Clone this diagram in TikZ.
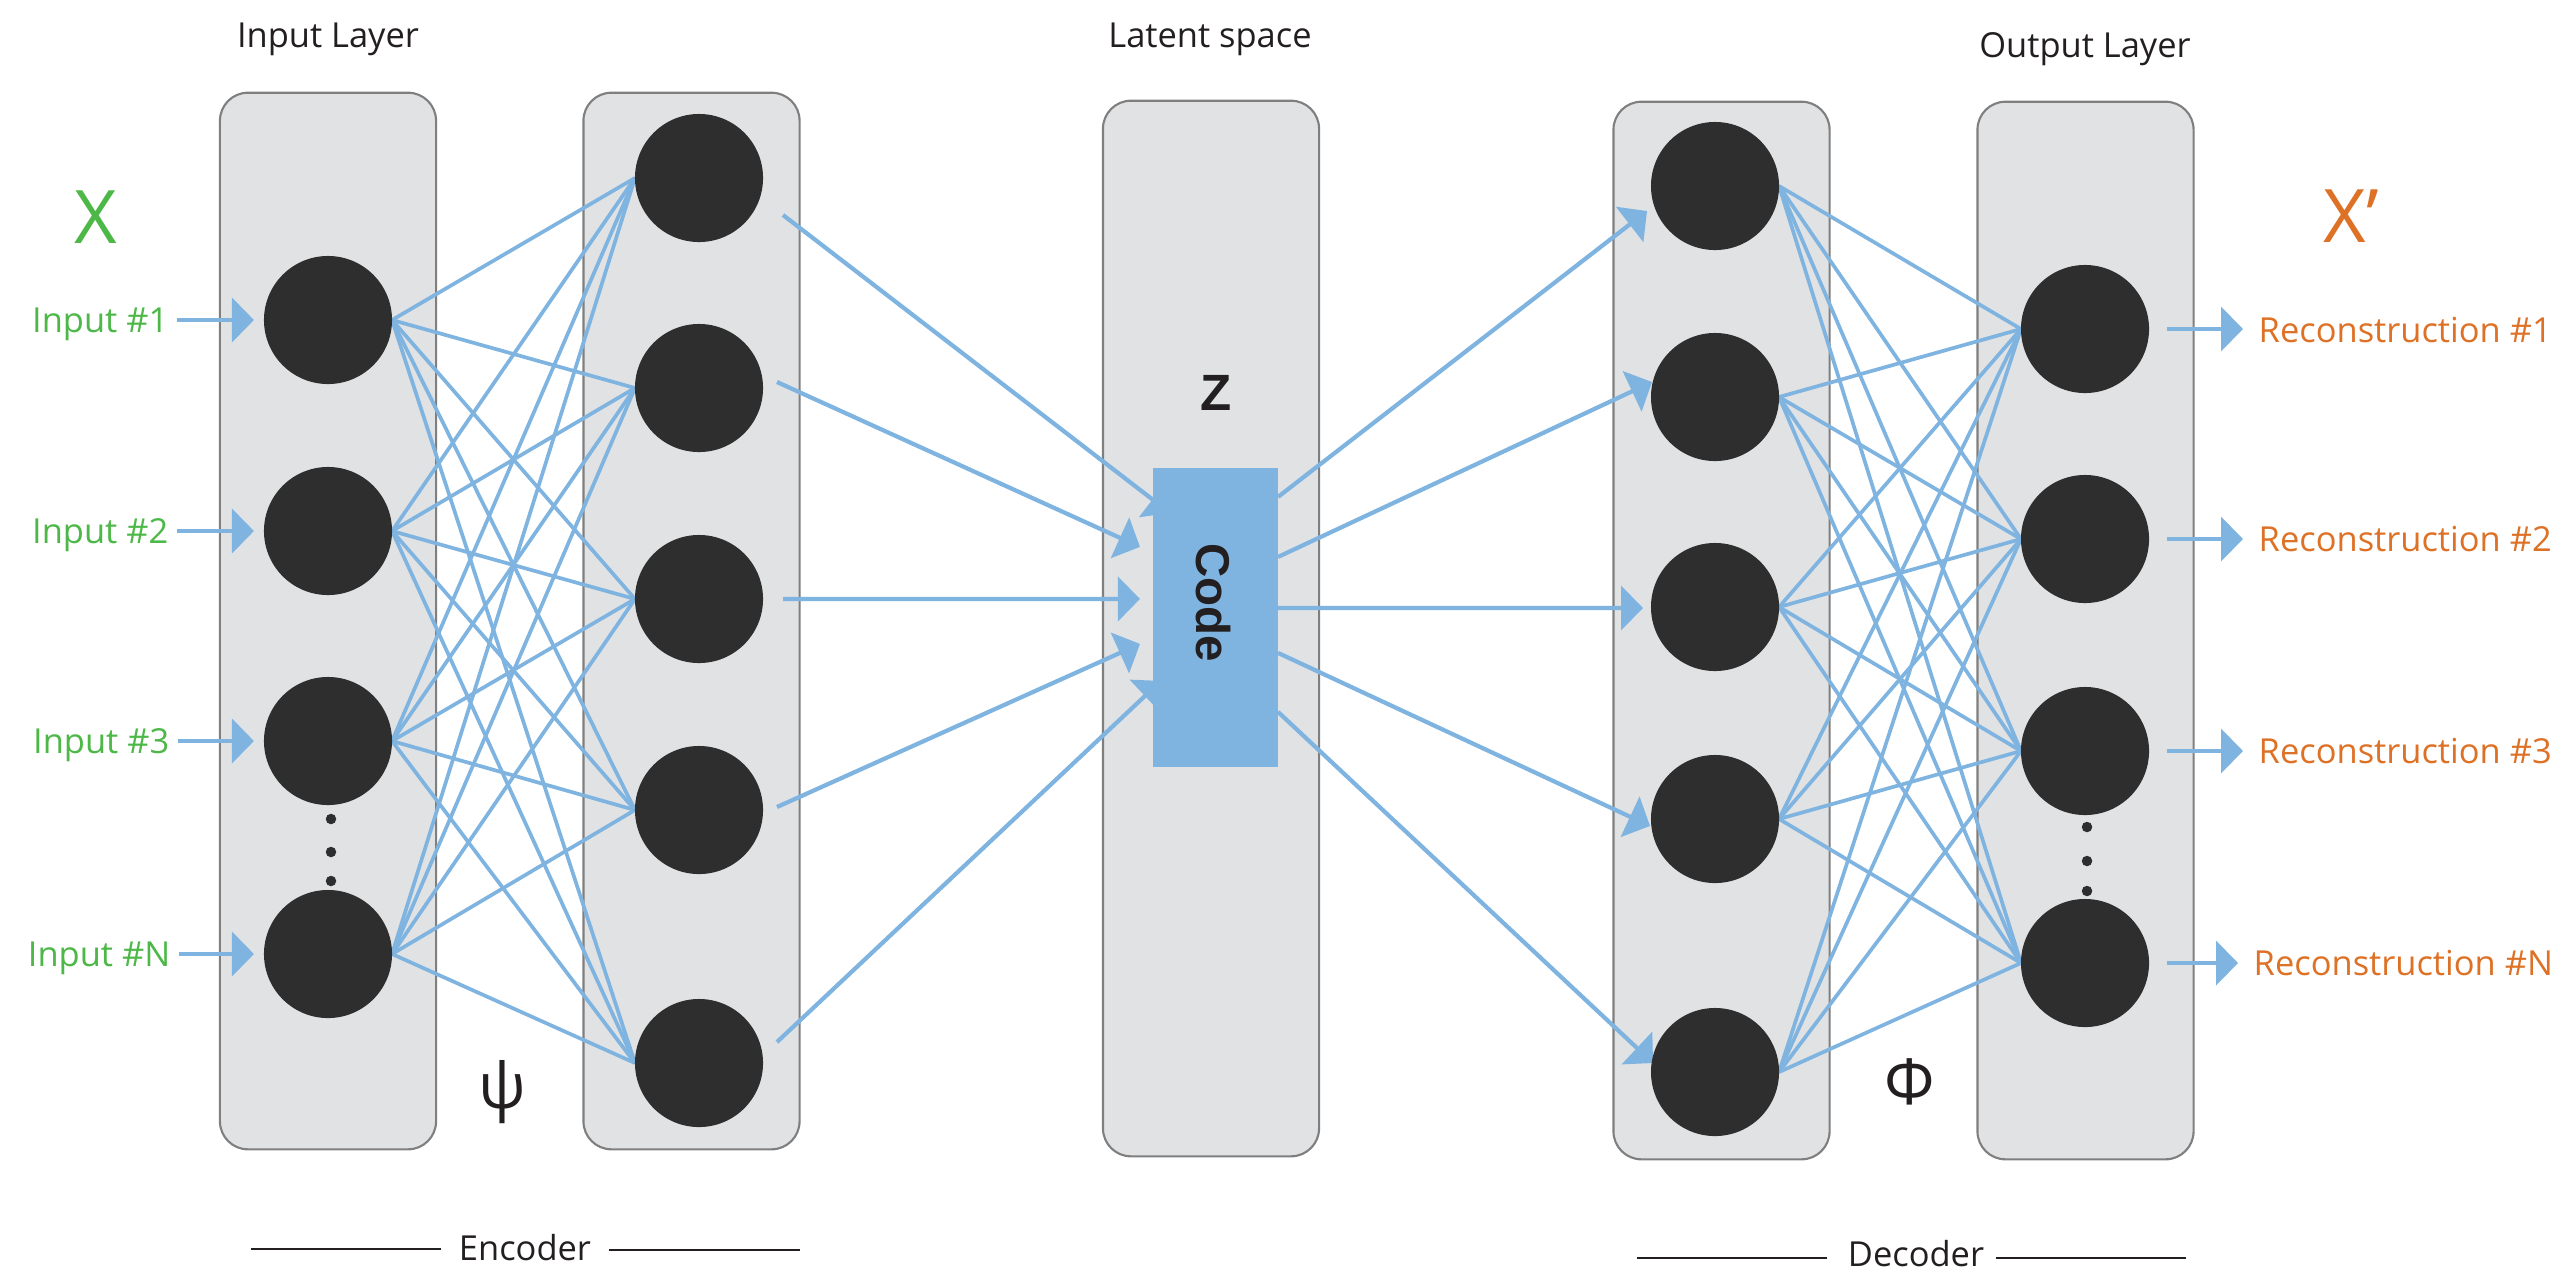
\documentclass[tikz,border=0pt]{standalone}
\usepackage{fontspec}
\setmainfont{Open Sans}
\newfontfamily\codefont{Liberation Sans}
\usetikzlibrary{arrows.meta,calc}

\definecolor{panelgray}{HTML}{E1E2E4}
\definecolor{panelline}{HTML}{7F7F7F}
\definecolor{neuroncol}{HTML}{2D2E2D}
\definecolor{wire}{HTML}{7FB4E1}
\definecolor{ingreen}{HTML}{4DB848}
\definecolor{outorange}{HTML}{DD7126}
\definecolor{ink}{HTML}{231F20}

\pgfdeclarelayer{back}
\pgfdeclarelayer{wires}
\pgfsetlayers{back,wires,main}

\begin{document}
\begin{tikzpicture}[x=0.01cm, y=-0.01cm,
  panel/.style={draw=panelline, line width=0.6pt, fill=panelgray, rounded corners=0.28cm,
    minimum width=2.16cm, inner sep=0, outer sep=0},
  neuron/.style={circle, fill=neuroncol, minimum size=1.28cm, inner sep=0, outer sep=0},
  dotmark/.style={circle, fill=neuroncol, minimum size=0.105cm, inner sep=0},
  mesh/.style={draw=wire, line width=1.05pt},
  feed/.style={draw=wire, line width=1.2pt, -{Triangle[length=0.22cm, width=0.44cm]}},
  head/.style={text=ink, inner sep=0, font=\fontsize{9.8}{12}\selectfont},
  inlbl/.style={text=ingreen, inner sep=0, font=\fontsize{9.8}{12}\selectfont},
  outlbl/.style={text=outorange, inner sep=0, font=\fontsize{9.8}{12}\selectfont},
  rulefine/.style={draw=ink, line width=0.55pt},
  greek/.style={text=ink, inner sep=0, font=\fontsize{18}{20}\selectfont},
  codebox/.style={fill=wire, inner sep=0, outer sep=0, minimum width=1.25cm, minimum height=2.99cm},
  codetxt/.style={text=ink, inner sep=0, font=\codefont\bfseries\fontsize{13.5}{15}\selectfont}
]
\useasboundingbox (0,0) rectangle (2561,1272);

% layer panels
\begin{pgfonlayer}{back}
\node[panel, minimum height=10.56cm] (p1) at (328,621) {};
\node[panel, minimum height=10.56cm] (p2) at (691.5,621) {};
\node[panel, minimum height=10.55cm] (p3) at (1211,628.5) {};
\node[panel, minimum height=10.57cm] (p4) at (1721.5,630.5) {};
\node[panel, minimum height=10.57cm] (p5) at (2085.5,630.5) {};
\end{pgfonlayer}

% headers
\node[head, anchor=base] (hin) at (328,47) {Input Layer};
\node[head, anchor=base] (hlat) at (1210,47) {Latent space};
\node[head, anchor=base] (hout) at (2085,57) {Output Layer};

% data symbols
\node[inlbl, anchor=base, font=\fontsize{21}{24}\selectfont] (xin) at (96,243) {X};
\node[outlbl, anchor=base west, font=\fontsize{21}{24}\selectfont] (xout) at (2323,242) {X’};

% neurons
\foreach \n/\y in {1/320,2/531,3/741,4/954} \node[neuron] (i\n) at (328,\y) {};
\foreach \n/\y in {1/178,2/388,3/599,4/810,5/1063} \node[neuron] (h\n) at (699,\y) {};
\foreach \n/\y in {1/186,2/397,3/607,4/819,5/1072} \node[neuron] (d\n) at (1715,\y) {};
\foreach \n/\y in {1/329,2/539,3/751,4/963} \node[neuron] (o\n) at (2085,\y) {};

% ellipsis dots
\foreach \n/\y in {1/819,2/852,3/881} \node[dotmark] (ed\n) at (331,\y) {};
\foreach \n/\y in {1/827,2/861,3/891} \node[dotmark] (od\n) at (2087,\y) {};

% latent code
\node[codebox] (code) at (1215.5,617.5) {};
\node[codetxt, rotate=-90] (codelbl) at (1213,603) {Code};
\node[codetxt, anchor=base, font=\codefont\bfseries\fontsize{14.5}{16}\selectfont] (zlbl) at (1216,410) {Z};

% mapping symbols
\node[greek] (psi) at (502,1092) {ψ};
\node[greek] (phi) at (1910,1082) {Φ};

% input and output labels
\node[inlbl, anchor=base east] (l1) at (169,332) {Input \#1};
\node[inlbl, anchor=base east] (l2) at (169,543) {Input \#2};
\node[inlbl, anchor=base east] (l3) at (170,753) {Input \#3};
\node[inlbl, anchor=base east] (l4) at (171,966) {Input \#N};
\node[outlbl, anchor=base west] (r1) at (2258,342) {Reconstruction \#1};
\node[outlbl, anchor=base west] (r2) at (2258,551) {Reconstruction \#2};
\node[outlbl, anchor=base west] (r3) at (2258,763) {Reconstruction \#3};
\node[outlbl, anchor=base west] (r4) at (2253,975) {Reconstruction \#N};

% encoder / decoder captions
\node[head, anchor=base] (enc) at (525,1260) {Encoder};
\node[head, anchor=base] (dec) at (1916,1266) {Decoder};
\draw[rulefine] ($(enc.west)+(-17,2)$) -- ++(-190,0);
\draw[rulefine] ($(enc.east)+(17,3)$) -- ++(191,0);
\draw[rulefine] ($(dec.west)+(-20,5)$) -- ++(-190,0);
\draw[rulefine] ($(dec.east)+(11,5)$) -- ++(190,0);

\begin{pgfonlayer}{wires}
% fully connected layers
\foreach \a in {1,...,4} \foreach \b in {1,...,5} \draw[mesh] (i\a.east) -- (h\b.west);
\foreach \a in {1,...,5} \foreach \b in {1,...,4} \draw[mesh] (d\a.east) -- (o\b.west);

% inputs and reconstructions
\foreach \n in {1,...,4} {
  \draw[feed, shorten <=0.08cm, shorten >=0.1cm] (l\n.east |- i\n) -- (i\n.west);
  \draw[feed, shorten <=0.18cm, shorten >=0.15cm] (o\n.east) -- (r\n.west |- o\n);
}

% encoder into the code
\draw[feed] ($(h1.center)+(84,37)$) -- ($(code.north west)+(17,45)$);
\draw[feed] ($(h2.center)+(78,-6)$) -- ($(code.north west)+(-13,79)$);
\draw[feed] ($(h3.center)+(84,0)$) -- ($(code.north west)+(-13,131)$);
\draw[feed] ($(h4.center)+(78,-3)$) -- ($(code.north west)+(-13,176)$);
\draw[feed] ($(h5.center)+(78,-21)$) -- ($(code.north west)+(8,213)$);

% code into the decoder
\draw[feed] ($(code.north east)+(0,29)$) -- ($(d1.center)+(-68,25)$);
\draw[feed] ($(code.north east)+(0,89)$) -- ($(d2.center)+(-63,-15)$);
\draw[feed] ($(code.north east)+(0,140)$) -- ($(d3.center)+(-72,1)$);
\draw[feed] ($(code.north east)+(0,185)$) -- ($(d4.center)+(-65,7)$);
\draw[feed] ($(code.north east)+(0,244)$) -- ($(d5.center)+(-62,-9)$);
\end{pgfonlayer}
\end{tikzpicture}
\end{document}
